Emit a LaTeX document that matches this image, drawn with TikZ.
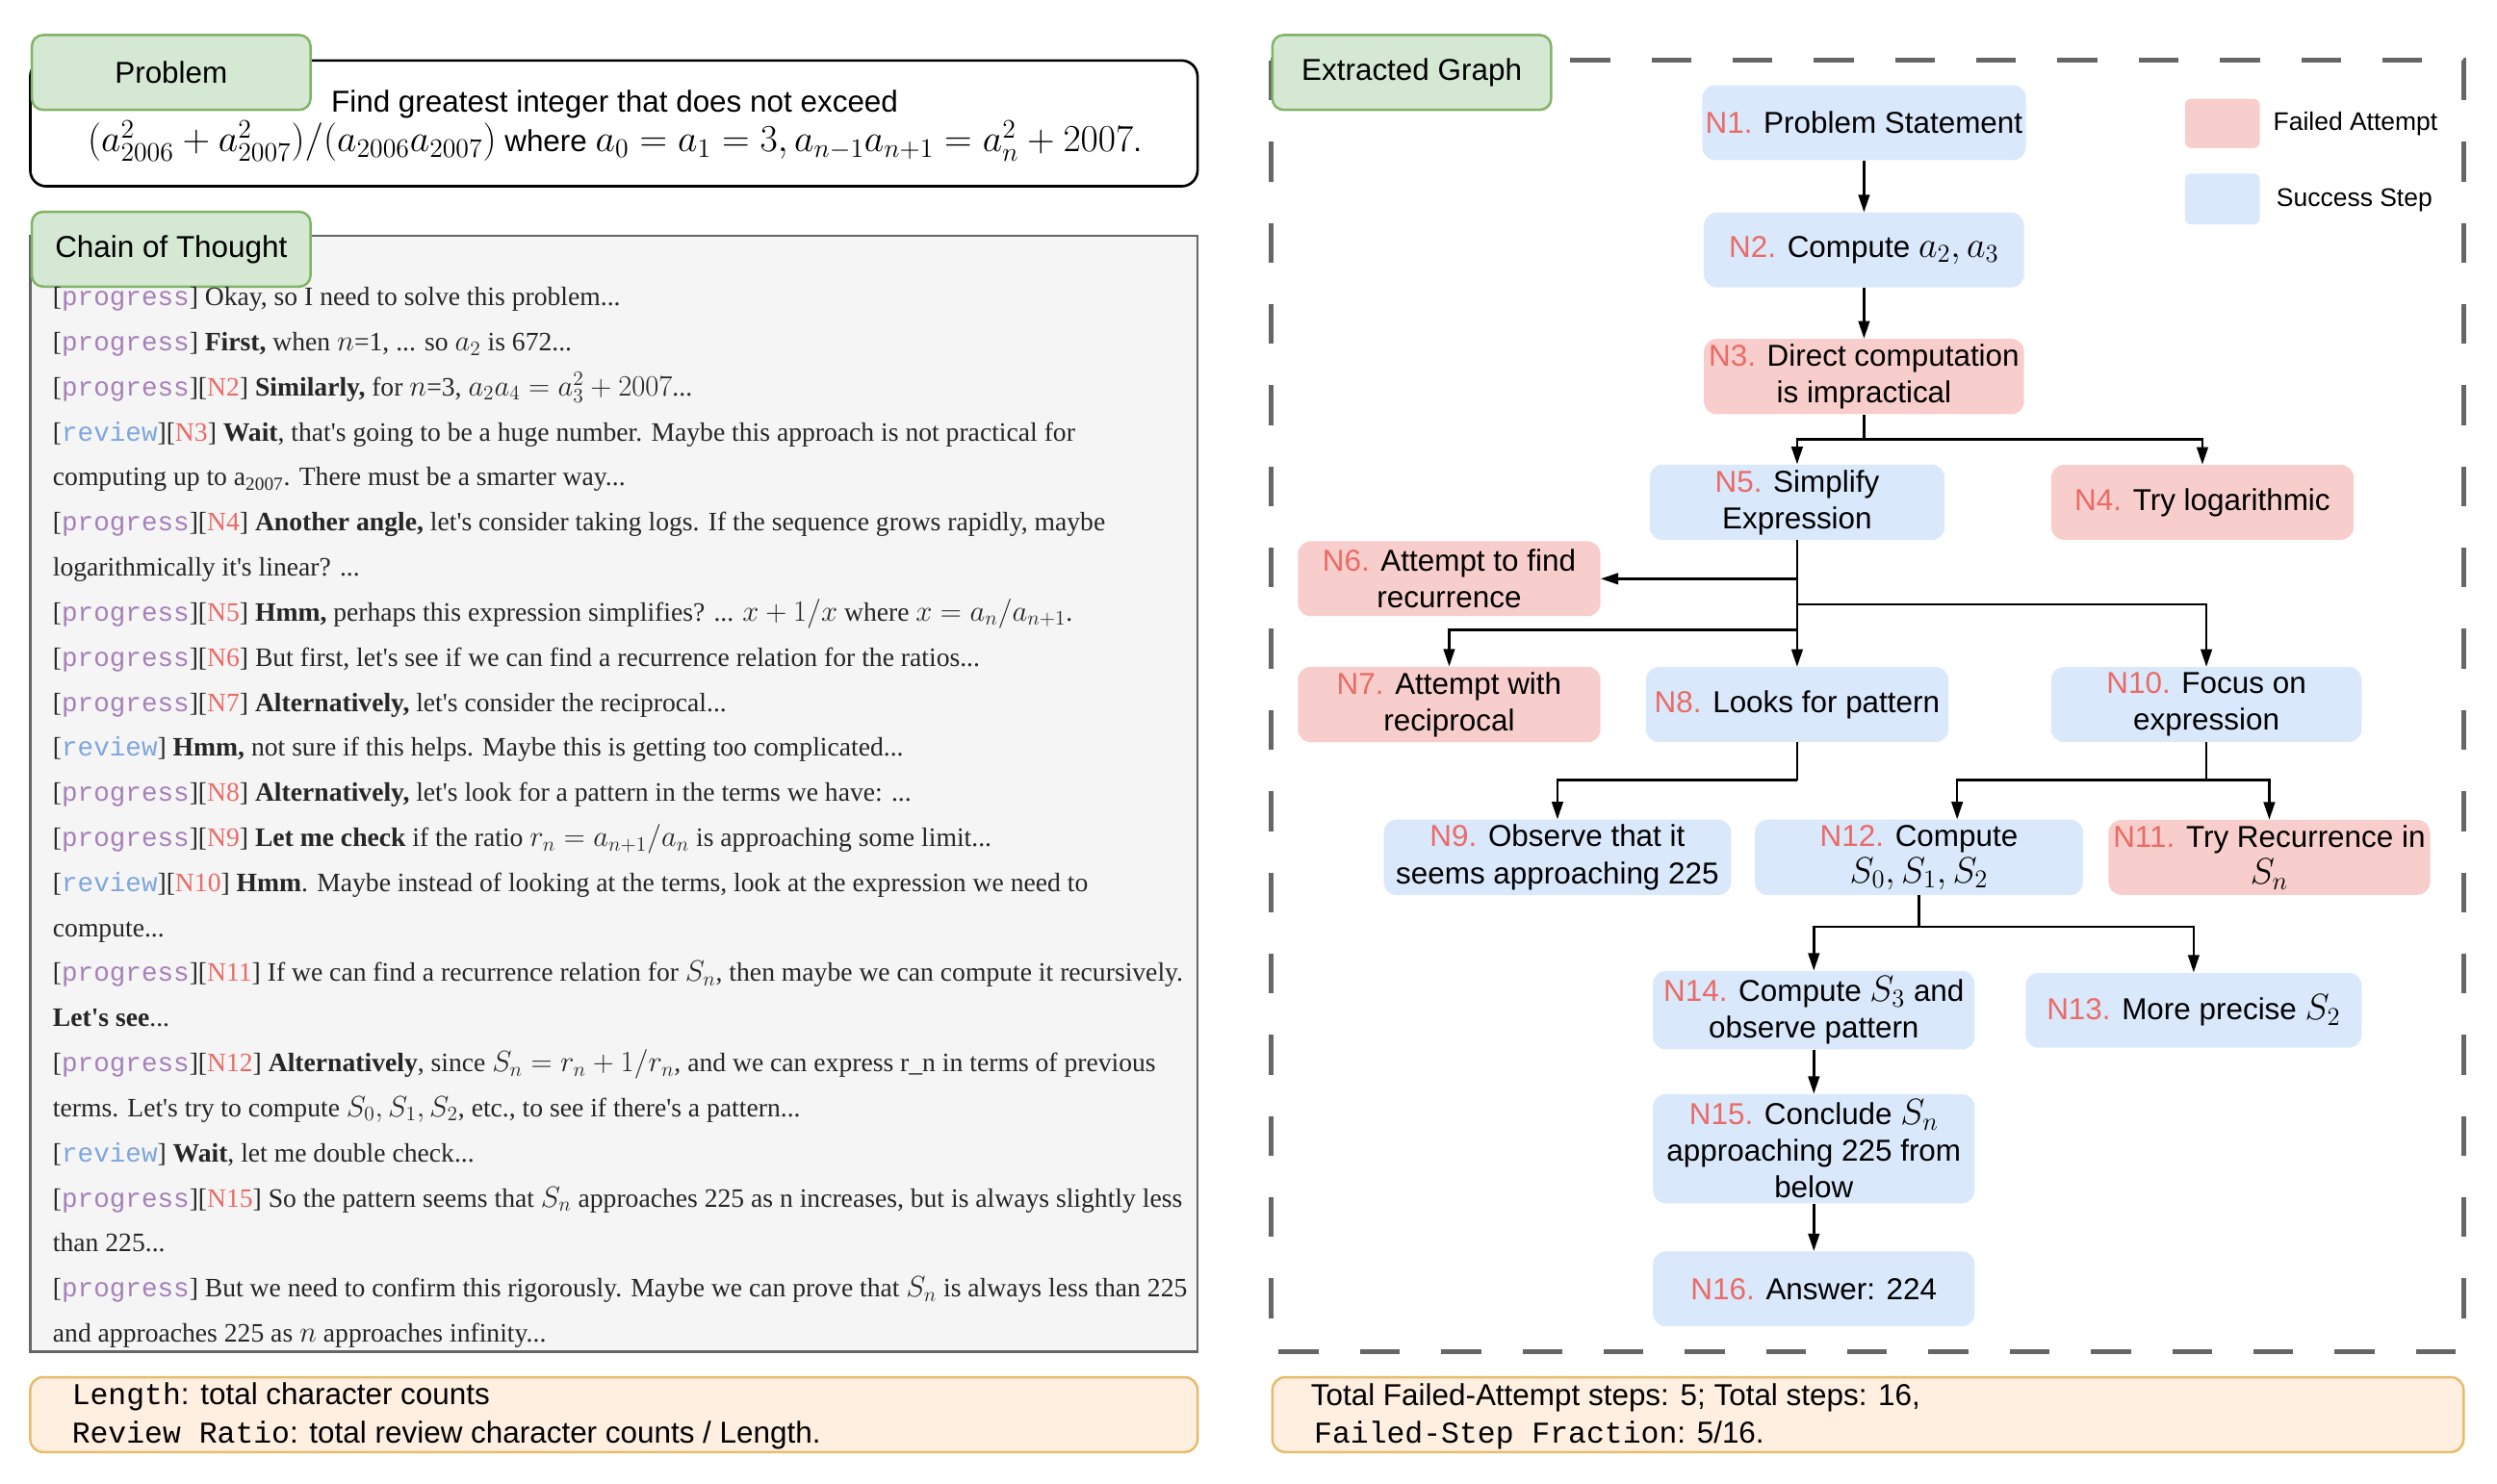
\RequirePackage{fix-cm}
\documentclass[tikz,border=0pt]{standalone}
\usepackage[no-math]{fontspec}
\setmainfont{Liberation Sans}
\setmonofont{Liberation Mono}
\newfontfamily\cotfont{Liberation Serif}
\usetikzlibrary{arrows.meta,positioning}

\definecolor{labelfill}{HTML}{D5E8D4}
\definecolor{labeldraw}{HTML}{82B366}
\definecolor{okfill}{HTML}{DAE8FC}
\definecolor{failfill}{HTML}{F8CECC}
\definecolor{nred}{HTML}{EA6B66}
\definecolor{progc}{HTML}{A680B8}
\definecolor{revc}{HTML}{7EA6E0}
\definecolor{cotgray}{HTML}{F5F5F5}
\definecolor{framegray}{HTML}{666666}
\definecolor{notefill}{HTML}{FFEFE0}
\definecolor{notedraw}{HTML}{E6BC6C}

\newcommand{\nlab}[1]{{\color{nred}#1.} }
\newcommand{\prog}{[{\ttfamily\color{progc}progress}]}
\newcommand{\rev}{[{\ttfamily\color{revc}review}]}
\newcommand{\cotn}[1]{[{\color{nred}#1}]}
\newcommand{\stepmath}[1]{{\fontsize{23}{23}\selectfont$#1$}}
\newcommand{\cotmath}[1]{{\fontsize{18.5}{20}\selectfont$#1$}}

\tikzset{
	tag/.style={rounded corners=7pt, fill=labelfill, draw=labeldraw, line width=1.5pt, minimum width=175pt, minimum height=47pt, font=\fontsize{19}{23}\selectfont},
	okstep/.style={rounded corners=8pt, fill=okfill, minimum height=47pt, align=center, inner xsep=2pt, font=\fontsize{19}{23}\selectfont},
	failstep/.style={okstep, fill=failfill},
	cotline/.style={anchor=base west, inner sep=0pt, text=black!85, font=\cotfont\fontsize{16.7}{20}\selectfont},
	noteline/.style={anchor=base west, inner sep=0pt, font=\fontsize{19}{23}\selectfont},
	arr/.style={-{Triangle[length=11pt,width=7pt]}, line width=1.5pt},
	link/.style={line width=1.5pt}
}

\begin{document}
\begin{tikzpicture}[x=1pt,y=-1pt]
	\useasboundingbox (0,0) rectangle (1568,932);

	% problem
	\draw[rounded corners=10pt, line width=1.6pt] (19,38) rectangle (752,117);
	\node[tag] (problab) at (107.5,45.5) {Problem};
	\node[align=center, font=\fontsize{19}{25}\selectfont] (probtext) at (386,79)
		{Find greatest integer that does not exceed\\
		{\fontsize{24}{25}\selectfont$(a_{2006}^2+a_{2007}^2)/(a_{2006}a_{2007})$} where
		{\fontsize{24}{25}\selectfont$a_0=a_1=3, a_{n-1}a_{n+1}=a_n^2+2007$}.};

	% chain of thought
	\draw[fill=cotgray, draw=framegray, line width=1.5pt] (19,148) rectangle (752,849);
	\node[tag] (cotlab) at (107.5,156.5) {Chain of Thought};
	\node[cotline] (c1) at (33,192.0) {\prog{} Okay, so I need to solve this problem...};
	\node[cotline] (c2) at (33,220.3) {\prog{} \textbf{First,} when \cotmath{n}=1, ... so \cotmath{a_2} is 672...};
	\node[cotline] (c3) at (33,248.6) {\prog\cotn{N2} \textbf{Similarly,} for \cotmath{n}=3, \cotmath{a_2a_4=a_3^2+2007}...};
	\node[cotline] (c4) at (33,276.9) {\rev\cotn{N3} \textbf{Wait}, that's going to be a huge number. Maybe this approach is not practical for};
	\node[cotline] (c5) at (33,305.2) {computing up to a\textsubscript{2007}. There must be a smarter way...};
	\node[cotline] (c6) at (33,333.5) {\prog\cotn{N4} \textbf{Another angle,} let's consider taking logs. If the sequence grows rapidly, maybe};
	\node[cotline] (c7) at (33,361.8) {logarithmically it's linear? ...};
	\node[cotline] (c8) at (33,390.1) {\prog\cotn{N5} \textbf{Hmm,} perhaps this expression simplifies? ... \cotmath{x+1/x} where \cotmath{x=a_n/a_{n+1}}.};
	\node[cotline] (c9) at (33,418.4) {\prog\cotn{N6} But first, let's see if we can find a recurrence relation for the ratios...};
	\node[cotline] (c10) at (33,446.7) {\prog\cotn{N7} \textbf{Alternatively,} let's consider the reciprocal...};
	\node[cotline] (c11) at (33,475.0) {\rev{} \textbf{Hmm,} not sure if this helps. Maybe this is getting too complicated...};
	\node[cotline] (c12) at (33,503.3) {\prog\cotn{N8} \textbf{Alternatively,} let's look for a pattern in the terms we have: ...};
	\node[cotline] (c13) at (33,531.6) {\prog\cotn{N9} \textbf{Let me check} if the ratio \cotmath{r_n=a_{n+1}/a_n} is approaching some limit...};
	\node[cotline] (c14) at (33,559.9) {\rev\cotn{N10} \textbf{Hmm}. Maybe instead of looking at the terms, look at the expression we need to};
	\node[cotline] (c15) at (33,588.2) {compute...};
	\node[cotline] (c16) at (33,616.5) {\prog\cotn{N11} If we can find a recurrence relation for \cotmath{S_n}, then maybe we can compute it recursively.};
	\node[cotline] (c17) at (33,644.8) {\textbf{Let's see}...};
	\node[cotline] (c18) at (33,673.1) {\prog\cotn{N12} \textbf{Alternatively}, since \cotmath{S_n=r_n+1/r_n}, and we can express r\_n in terms of previous};
	\node[cotline] (c19) at (33,701.4) {terms. Let's try to compute \cotmath{S_0, S_1, S_2}, etc., to see if there's a pattern...};
	\node[cotline] (c20) at (33,729.7) {\rev{} \textbf{Wait}, let me double check...};
	\node[cotline] (c21) at (33,758.0) {\prog\cotn{N15} So the pattern seems that \cotmath{S_n} approaches 225 as n increases, but is always slightly less};
	\node[cotline] (c22) at (33,786.3) {than 225...};
	\node[cotline] (c23) at (33,814.6) {\prog{} But we need to confirm this rigorously. Maybe we can prove that \cotmath{S_n} is always less than 225};
	\node[cotline] (c24) at (33,842.9) {and approaches 225 as \cotmath{n} approaches infinity...};

	% metrics left
	\draw[rounded corners=8pt, fill=notefill, draw=notedraw, line width=1.5pt] (19,865) rectangle (752,912);
	\node[noteline] (len) at (45,882.5) {\texttt{Length}: total character counts};
	\node[noteline] (ratio) at (45,906.5) {\texttt{Review Ratio}: total review character counts / Length.};

	% extracted graph frame
	\draw[draw=framegray, line width=3pt, dash pattern=on 25pt off 26pt] (798,38) rectangle (1547,849);
	\node[tag] (graphlab) at (886.5,45.5) {Extracted Graph};

	% legend
	\node[failstep, minimum width=47pt, minimum height=31pt, rounded corners=4pt] (legfail) at (1395.5,77.5) {};
	\node[okstep, minimum width=47pt, minimum height=32pt, rounded corners=4pt] (legok) at (1395.5,125) {};
	\node[anchor=west, font=\fontsize{16}{19}\selectfont] (legfailtxt) at (1424,78) {Failed Attempt};
	\node[anchor=west, font=\fontsize{16}{19}\selectfont] (legoktxt) at (1426,126) {Success Step};

	% steps
	\node[okstep, minimum width=201pt] (n1) at (1170.5,77) {\nlab{N1}Problem Statement};
	\node[okstep, minimum width=201pt] (n2) at (1170.5,157) {\nlab{N2}Compute \stepmath{a_2, a_3}};
	\node[failstep, minimum width=201pt] (n3) at (1170.5,236.5) {\nlab{N3}Direct computation\\is impractical};
	\node[okstep, minimum width=185pt] (n5) at (1128.5,315.5) {\nlab{N5}Simplify\\Expression};
	\node[failstep, minimum width=190pt] (n4) at (1383,315.5) {\nlab{N4}Try logarithmic};
	\node[failstep, minimum width=190pt] (n6) at (910,363.5) {\nlab{N6}Attempt to find\\recurrence};
	\node[failstep, minimum width=190pt] (n7) at (910,442.5) {\nlab{N7}Attempt with\\reciprocal};
	\node[okstep, minimum width=190pt] (n8) at (1128.5,442.5) {\nlab{N8}Looks for pattern};
	\node[okstep, minimum width=195pt] (n10) at (1385.5,442.5) {\nlab{N10}Focus on\\expression};
	\node[okstep, minimum width=218pt] (n9) at (978,538.5) {\nlab{N9}Observe that it\\seems approaching 225};
	\node[okstep, minimum width=206pt] (n12) at (1205,538.5) {\nlab{N12}Compute\\\stepmath{S_0, S_1, S_2}};
	\node[failstep, minimum width=202pt] (n11) at (1425,538.5) {\nlab{N11}Try Recurrence in\\\stepmath{S_n}};
	\node[okstep, minimum width=202pt] (n14) at (1139,634.5) {\nlab{N14}Compute \stepmath{S_3} and\\observe pattern};
	\node[okstep, minimum width=211pt] (n13) at (1377.5,634.5) {\nlab{N13}More precise \stepmath{S_2}};
	\node[okstep, minimum width=202pt, minimum height=63pt] (n15) at (1139,721.5) {\nlab{N15}Conclude \stepmath{S_n}\\approaching 225 from\\below};
	\node[okstep, minimum width=202pt] (n16) at (1139,809.5) {\nlab{N16}Answer: 224};

	% links
	\draw[arr] (n1) -- (n2);
	\draw[arr] (n2) -- (n3);
	\coordinate (j3) at (1170.5,276);
	\draw[link] (n3) -- (j3);
	\draw[arr] (j3) -| (n5);
	\draw[arr] (j3) -| (n4);
	\coordinate (j6) at (1128.5,363.5);
	\coordinate (j10) at (1128.5,379.5);
	\coordinate (j7) at (1128.5,395.5);
	\draw[arr] (n5) -- (n8);
	\draw[arr] (j6) -- (n6);
	\draw[arr] (j10) -| (n10);
	\draw[arr] (j7) -| (n7);
	\coordinate (j8) at (1128.5,490);
	\draw[link] (n8) -- (j8);
	\draw[arr] (j8) -| (n9);
	\coordinate (j11) at (1385.5,490);
	\draw[link] (n10) -- (j11);
	\draw[arr] (j11) -| (n11);
	\draw[arr] (j11) -| ([xshift=24pt]n12.north);
	\coordinate (j12) at (1205,582);
	\draw[link] (n12) -- (j12);
	\draw[arr] (j12) -| (n14);
	\draw[arr] (j12) -| (n13);
	\draw[arr] (n14) -- (n15);
	\draw[arr] (n15) -- (n16);

	% metrics right
	\draw[rounded corners=8pt, fill=notefill, draw=notedraw, line width=1.5pt] (799,865) rectangle (1547,912);
	\node[noteline] (failcount) at (823,883) {Total Failed-Attempt steps: 5; Total steps: 16,};
	\node[noteline] (failfrac) at (825,906.5) {\texttt{Failed-Step Fraction}: 5/16.};
\end{tikzpicture}
\end{document}
